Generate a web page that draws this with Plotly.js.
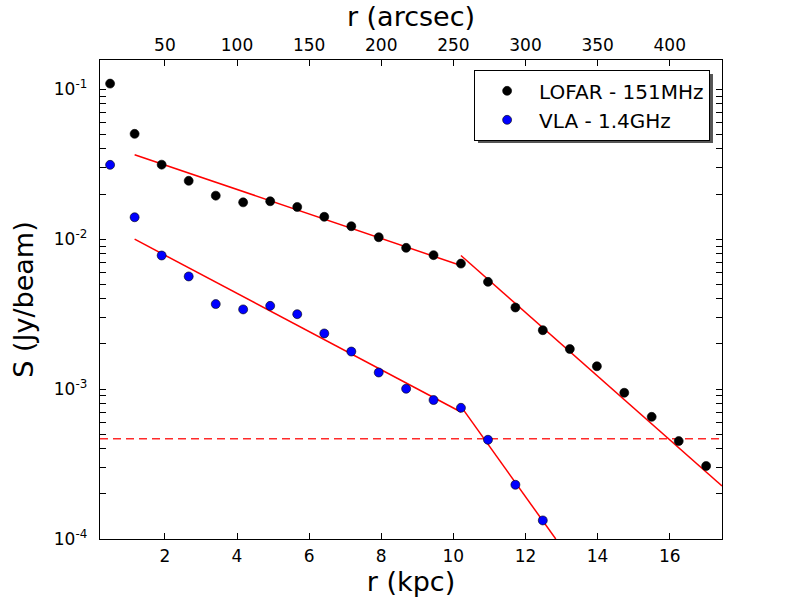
<!DOCTYPE html>
<html>
<head>
<meta charset="utf-8">
<script src="https://cdn.plot.ly/plotly-3.0.1.min.js"></script>
<style>html,body{margin:0;padding:0;background:#fff;}#plot{width:800px;height:600px;}</style>
</head>
<body>
<div id="plot"></div>
<script>
// Radii (kpc) of the profile points
const radiusKpc = [0.48, 1.16, 1.91, 2.66, 3.41, 4.17, 4.92, 5.67, 6.42, 7.17, 7.93, 8.69, 9.45, 10.21,
                   10.96, 11.72, 12.48, 13.23, 13.98, 14.74, 15.50, 16.25, 17.01];
// LOFAR 151 MHz surface brightness (Jy/beam)
const lofarFlux = [0.109, 0.0504, 0.0314, 0.0245, 0.0195, 0.0176, 0.0179, 0.0164, 0.0141, 0.0122, 0.0103,
                   0.00875, 0.00782, 0.00687, 0.00519, 0.00350, 0.00247, 0.00185, 0.00142, 0.000945,
                   0.000653, 0.000450, 0.000307];
// VLA 1.4 GHz surface brightness (Jy/beam)
const vlaRadiusKpc = radiusKpc.slice(0, 17);
const vlaFlux = [0.0313, 0.0140, 0.00778, 0.00564, 0.00369, 0.00340, 0.00359, 0.00316, 0.00235, 0.00178,
                 0.00129, 0.001005, 0.000845, 0.000750, 0.000459, 0.000230, 0.000133];
// Fitted segments (endpoints)
const lofarFit1X = [1.16, 10.21], lofarFit1Y = [0.0366, 0.00667];
const lofarFit2X = [10.21, 17.45], lofarFit2Y = [0.00778, 0.000226];
const vlaFit1X = [1.16, 10.21], vlaFit1Y = [0.0100, 0.000703];
const vlaFit2X = [10.21, 12.84], vlaFit2Y = [0.000766, 0.0001];
// Noise level (Jy/beam)
const noiseLevel = 0.000466;
// Axis setup
const kpcRange = [0.2, 17.45];
const arcsecPerKpc = 25;
const kpcTicks = [2, 4, 6, 8, 10, 12, 14, 16];
const arcsecTicks = [50, 100, 150, 200, 250, 300, 350, 400];
const yTickVals = [1e-4, 1e-3, 1e-2, 1e-1];
const yTickText = ['10<sup>-4</sup>', '10<sup>-3</sup>', '10<sup>-2</sup>', '10<sup>-1</sup>'];

const minorVals = [];
[1e-4, 1e-3, 1e-2, 1e-1].forEach(d => { for (let k = 2; k <= 9; k++) minorVals.push(d * k); });

const FONT = 'DejaVu Sans, sans-serif';
const markerLine = {color: '#000', width: 0.6};
const fitLine = {color: 'red', width: 1.5};

const traces = [
  {x: lofarFit1X, y: lofarFit1Y, mode: 'lines', line: fitLine, showlegend: false},
  {x: lofarFit2X, y: lofarFit2Y, mode: 'lines', line: fitLine, showlegend: false},
  {x: vlaFit1X, y: vlaFit1Y, mode: 'lines', line: fitLine, showlegend: false},
  {x: vlaFit2X, y: vlaFit2Y, mode: 'lines', line: fitLine, showlegend: false},
  {x: kpcRange, y: [noiseLevel, noiseLevel], mode: 'lines',
   line: {color: '#ff2a2a', width: 1.5, dash: '8px,5px'}, showlegend: false},
  {x: radiusKpc, y: lofarFlux, mode: 'markers', name: 'LOFAR - 151MHz',
   marker: {color: '#000', size: 9, line: markerLine}},
  {x: vlaRadiusKpc, y: vlaFlux, mode: 'markers', name: 'VLA - 1.4GHz',
   marker: {color: '#0000ff', size: 9, line: markerLine}},
  // same LOFAR profile in arcsec units, invisible, so the top axis is drawn
  {x: radiusKpc.map(r => r * arcsecPerKpc), y: lofarFlux, xaxis: 'x2', mode: 'markers',
   marker: {opacity: 0, size: 1}, showlegend: false, hoverinfo: 'skip'}
];

const layout = {
  width: 800, height: 600,
  margin: {l: 100, r: 78, t: 60, b: 61, pad: 0},
  paper_bgcolor: '#fff', plot_bgcolor: '#fff',
  font: {family: FONT, color: '#000', size: 17},
  showlegend: true,
  xaxis: {
    range: kpcRange, tickmode: 'array', tickvals: kpcTicks, ticks: 'inside', ticklen: 6, tickwidth: 1,
    tickcolor: '#000', showline: true, linecolor: '#000', linewidth: 1.3, mirror: false,
    showgrid: false, zeroline: false, tickfont: {size: 17, family: FONT}, ticklabelstandoff: 1,
    title: {text: 'r (kpc)', font: {size: 27, family: FONT}, standoff: 3}
  },
  xaxis2: {
    overlaying: 'x', side: 'top', anchor: 'y',
    range: [kpcRange[0] * arcsecPerKpc, kpcRange[1] * arcsecPerKpc],
    tickmode: 'array', tickvals: arcsecTicks, ticks: 'inside', ticklen: 6, tickwidth: 1, tickcolor: '#000',
    showline: true, linecolor: '#000', linewidth: 1.3, showgrid: false, zeroline: false,
    tickfont: {size: 17, family: FONT}, ticklabelstandoff: 1,
    title: {text: 'r (arcsec)', font: {size: 27, family: FONT}, standoff: 0}
  },
  yaxis: {
    type: 'log', range: [-4, -0.805], tickmode: 'array', tickvals: yTickVals, ticktext: yTickText,
    ticks: 'inside', ticklen: 6, tickwidth: 1, tickcolor: '#000', showline: true, linecolor: '#000',
    linewidth: 1.3, mirror: 'allticks', showgrid: false, zeroline: false,
    tickfont: {size: 17, family: FONT}, ticklabelstandoff: 8,
    minor: {tickmode: 'array', tickvals: minorVals, ticks: 'inside', ticklen: 3, tickcolor: '#000', showgrid: false},
    title: {text: 'S (Jy/beam)', font: {size: 27, family: FONT}, standoff: 12}
  },
  legend: {
    x: 0.601, y: 0.979, xanchor: 'left', yanchor: 'top',
    bgcolor: '#fff', bordercolor: '#000', borderwidth: 1.3, itemwidth: 54,
    font: {size: 20, family: FONT}
  },
  shapes: [
    {type: 'rect', xref: 'paper', yref: 'paper', x0: 0.6077, x1: 0.9855, y0: 0.8267, y1: 0.9708,
     fillcolor: '#555', line: {width: 0}, layer: 'above'}
  ]
};

Plotly.newPlot('plot', traces, layout, {displayModeBar: false, staticPlot: true});
</script>
</body>
</html>
